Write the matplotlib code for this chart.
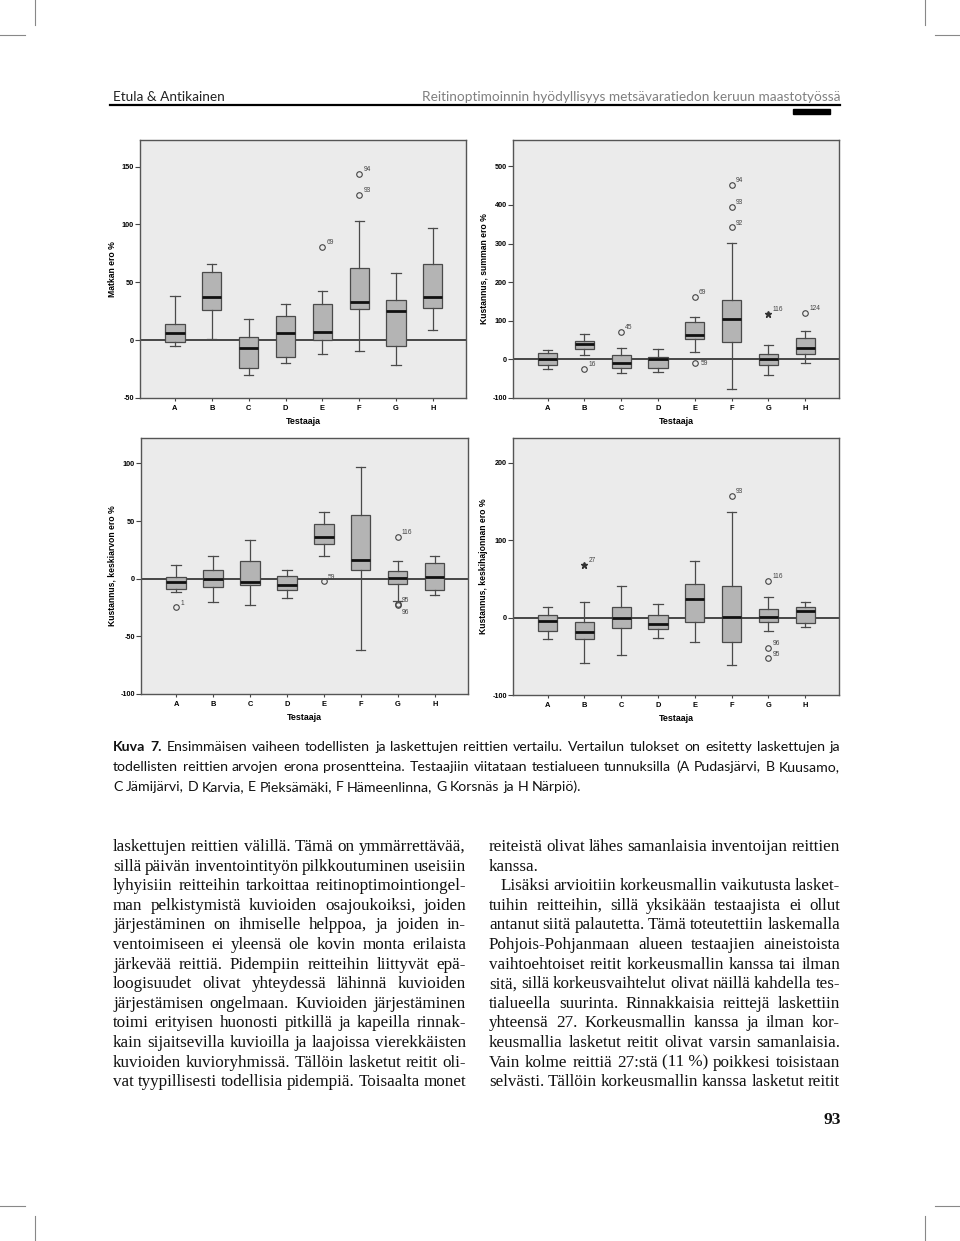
import matplotlib
matplotlib.use("Agg")
import matplotlib.pyplot as plt
from matplotlib.lines import Line2D
from matplotlib.patches import Rectangle

W, H = 960, 1241

# -----------------------------------
# DATA
# -----------------------------------

testaajat = ["A", "B", "C", "D", "E", "F", "G", "H"]

# Matkan ero %
matka_whislo = [-4.9, 1.0, -29.7, -20.0, -11.7, -9.7, -21.4, 9.1]
matka_q1 = [-2.0, 26.0, -23.7, -14.9, -0.3, 26.9, -4.9, 28.0]
matka_med = [6.3, 37.0, -6.6, 6.0, 7.1, 33.4, 25.4, 37.4]
matka_q3 = [14.3, 59.0, 2.3, 20.9, 30.9, 62.6, 34.9, 65.4]
matka_whishi = [38.0, 66.0, 18.0, 31.4, 42.3, 102.6, 58.3, 96.9]
matka_outliers = [("E", 80.6, "69", "o"), ("F", 143.4, "94", "o"), ("F", 125.4, "93", "o")]

# Kustannus, summan ero %
summa_whislo = [-25.9, 11.2, -36.0, -32.8, 19.0, -76.7, -41.4, -10.3]
summa_q1 = [-14.7, 25.9, -23.0, -21.6, 53.4, 44.0, -13.8, 14.7]
summa_med = [0.0, 39.7, -10.3, 0.0, 63.0, 105.0, 0.0, 29.0]
summa_q3 = [15.5, 48.0, 11.0, 7.0, 95.7, 152.6, 14.7, 55.0]
summa_whishi = [25.0, 66.0, 30.0, 28.0, 108.6, 301.0, 36.0, 74.0]
summa_outliers = [("B", -24.0, "16", "o"), ("C", 72.0, "45", "o"), ("E", 161.0, "69", "o"),
                  ("E", -10.3, "59", "o"), ("F", 452.6, "94", "o"), ("F", 394.8, "93", "o"),
                  ("F", 342.0, "92", "o"), ("G", 117.0, "116", "*"), ("H", 120.7, "124", "o")]

# Kustannus, keskiarvon ero %
keskiarvo_whislo = [-11.5, -20.5, -22.8, -16.4, 19.6, -62.0, -19.6, -13.8]
keskiarvo_q1 = [-8.6, -6.9, -5.8, -9.8, 30.0, 7.2, -4.6, -10.0]
keskiarvo_med = [-3.2, -0.6, -2.9, -5.8, 36.3, 16.4, 0.6, 1.4]
keskiarvo_q3 = [1.2, 7.2, 15.3, 2.0, 47.6, 54.8, 6.3, 13.8]
keskiarvo_whishi = [11.5, 19.3, 33.4, 7.5, 58.2, 96.5, 15.6, 19.3]
keskiarvo_outliers = [("A", -24.8, "1", "o"), ("E", -2.3, "59", "o"), ("G", 36.3, "116", "o"),
                      ("G", -22.0, "95", "o"), ("G", -23.0, "96", "o")]

# Kustannus, keskihajonnan ero %
hajonta_whislo = [-28.0, -59.0, -48.7, -25.9, -31.9, -61.6, -17.7, -12.0]
hajonta_q1 = [-17.2, -27.6, -13.4, -14.2, -5.2, -31.0, -5.2, -6.5]
hajonta_med = [-4.7, -18.1, 0.0, -7.8, 24.6, 1.3, 1.3, 8.2]
hajonta_q3 = [3.4, -5.2, 13.4, 3.0, 43.1, 41.0, 11.2, 14.2]
hajonta_whishi = [13.8, 20.3, 41.0, 18.0, 73.3, 136.6, 26.3, 20.3]
hajonta_outliers = [("B", 67.7, "27", "*"), ("F", 157.0, "93", "o"), ("G", 47.0, "116", "o"),
                    ("G", -39.2, "96", "o"), ("G", -52.6, "95", "o")]

# -----------------------------------
# PAGE TEXT
# -----------------------------------

header_left = "Etula & Antikainen"
header_right = "Reitinoptimoinnin hyödyllisyys metsävaratiedon keruun maastotyössä"

caption_lines = [
    "Kuva 7. Ensimmäisen vaiheen todellisten ja laskettujen reittien vertailu. Vertailun tulokset on esitetty laskettujen ja",
    "todellisten reittien arvojen erona prosentteina. Testaajiin viitataan testialueen tunnuksilla (A Pudasjärvi, B Kuusamo,",
    "C Jämijärvi, D Karvia, E Pieksämäki, F Hämeenlinna, G Korsnäs ja H Närpiö).",
]

left_column = [
    "laskettujen reittien välillä. Tämä on ymmärrettävää,",
    "sillä päivän inventointityön pilkkoutuminen useisiin",
    "lyhyisiin reitteihin tarkoittaa reitinoptimointiongel-",
    "man pelkistymistä kuvioiden osajoukoiksi, joiden",
    "järjestäminen on ihmiselle helppoa, ja joiden in-",
    "ventoimiseen ei yleensä ole kovin monta erilaista",
    "järkevää reittiä. Pidempiin reitteihin liittyvät epä-",
    "loogisuudet olivat yhteydessä lähinnä kuvioiden",
    "järjestämisen ongelmaan. Kuvioiden järjestäminen",
    "toimi erityisen huonosti pitkillä ja kapeilla rinnak-",
    "kain sijaitsevilla kuvioilla ja laajoissa vierekkäisten",
    "kuvioiden kuvioryhmissä. Tällöin lasketut reitit oli-",
    "vat tyypillisesti todellisia pidempiä. Toisaalta monet",
]

right_column = [
    "reiteistä olivat lähes samanlaisia inventoijan reittien",
    "kanssa.",
    "Lisäksi arvioitiin korkeusmallin vaikutusta lasket-",
    "tuihin reitteihin, sillä yksikään testaajista ei ollut",
    "antanut siitä palautetta. Tämä toteutettiin laskemalla",
    "Pohjois-Pohjanmaan alueen testaajien aineistoista",
    "vaihtoehtoiset reitit korkeusmallin kanssa tai ilman",
    "sitä, sillä korkeusvaihtelut olivat näillä kahdella tes-",
    "tialueella suurinta. Rinnakkaisia reittejä laskettiin",
    "yhteensä 27. Korkeusmallin kanssa ja ilman kor-",
    "keusmallia lasketut reitit olivat varsin samanlaisia.",
    "Vain kolme reittiä 27:stä (11\u00a0%) poikkesi toisistaan",
    "selvästi. Tällöin korkeusmallin kanssa lasketut reitit",
]

page_number = "93"

# -----------------------------------
# FIGURE + HELPERS
# -----------------------------------

fig = plt.figure(figsize=(W / 100, H / 100), dpi=100)
fig.patch.set_facecolor("white")
renderer = fig.canvas.get_renderer()


def fx(x):
    return x / W


def fy(y):
    return 1 - y / H


def text_width(s, **kw):
    t = fig.text(0, 0, s, **kw)
    w = t.get_window_extent(renderer).width
    t.remove()
    return w


def set_line(line, x0, x1, y, justify=True, bold_first=0, **kw):
    words = line.split(" ")
    weights = ["bold" if i < bold_first else "normal" for i in range(len(words))]
    widths = [text_width(w, fontweight=wt, **kw) for w, wt in zip(words, weights)]
    if justify and len(words) > 1:
        gap = (x1 - x0 - sum(widths)) / (len(words) - 1)
    else:
        gap = text_width("n n", **kw) - 2 * text_width("n", **kw)
    x = x0
    for w, wt, wd in zip(words, weights, widths):
        fig.text(fx(x), fy(y), w, ha="left", va="center_baseline", fontweight=wt, **kw)
        x += wd + gap


def draw_panel(rect, whislo, q1, med, q3, whishi, outliers, ylabel, yticks, ylim, xlim,
               label_offsets=None):
    x0, y0, x1, y1 = rect
    ax = fig.add_axes([fx(x0), fy(y1), (x1 - x0) / W, (y1 - y0) / H])
    ax.set_facecolor("#ebebeb")

    stats = []
    for a, b, c, d, e in zip(whislo, q1, med, q3, whishi):
        stats.append(dict(whislo=a, q1=b, med=c, q3=d, whishi=e, fliers=[]))

    positions = list(range(1, len(testaajat) + 1))
    ax.axhline(0, color="#1a1a1a", lw=1.1, zorder=1.5)
    ax.bxp(
        stats,
        positions=positions,
        widths=0.52,
        capwidths=0.25,
        patch_artist=True,
        showfliers=False,
        manage_ticks=False,
        boxprops=dict(facecolor="#b4b4b4", edgecolor="#4a4a4a", linewidth=0.9),
        whiskerprops=dict(color="#4a4a4a", linewidth=0.9),
        capprops=dict(color="#4a4a4a", linewidth=0.9),
        medianprops=dict(color="#111111", linewidth=2.0),
        zorder=2,
    )

    label_offsets = label_offsets or {}
    for cat, val, lab, kind in outliers:
        xpos = testaajat.index(cat) + 1
        if kind == "*":
            ax.plot(xpos, val, marker="*", color="#333333", ms=4.5, zorder=3)
        else:
            ax.plot(xpos, val, marker="o", mfc="none", mec="#444444", mew=0.8, ms=4, zorder=3)
        ax.annotate(lab, (xpos, val), xytext=label_offsets.get(lab, (3, 2)),
                    textcoords="offset points", fontsize=4.8, color="#444444",
                    family="Liberation Sans")

    ax.set_xlim(*xlim)
    ax.set_ylim(*ylim)
    ax.set_xticks(positions, labels=testaajat, fontsize=5.4, fontweight="bold",
                  family="Liberation Sans")
    ax.set_yticks(yticks, labels=[str(v) for v in yticks], fontsize=5.2, fontweight="bold",
                  family="Liberation Sans")
    ax.tick_params(axis="y", direction="out", length=3.5, width=0.8, pad=1, color="#444444")
    ax.tick_params(axis="x", direction="out", length=2.2, width=0.8, pad=2.5, color="#444444")
    ax.set_xlabel("Testaaja", fontsize=6.4, fontweight="bold", family="Liberation Sans",
                  labelpad=4)
    ax.set_ylabel(ylabel, fontsize=6.2, fontweight="bold", family="Liberation Sans",
                  labelpad=3)
    for sp in ax.spines.values():
        sp.set_color("#555555")
        sp.set_linewidth(1.0)
    return ax


# -----------------------------------
# CHART PANELS
# -----------------------------------

draw_panel((140, 140, 466, 398), matka_whislo, matka_q1, matka_med, matka_q3, matka_whishi,
           matka_outliers, "Matkan ero %", [-50, 0, 50, 100, 150], (-50, 173), (0.05, 8.9))

draw_panel((513, 140, 839, 398), summa_whislo, summa_q1, summa_med, summa_q3, summa_whishi,
           summa_outliers, "Kustannus, summan ero %", [-100, 0, 100, 200, 300, 400, 500],
           (-100, 568), (0.06, 8.92), label_offsets={"59": (4, -1)})

draw_panel((141, 438, 468, 694), keskiarvo_whislo, keskiarvo_q1, keskiarvo_med, keskiarvo_q3,
           keskiarvo_whishi, keskiarvo_outliers, "Kustannus, keskiarvon ero %",
           [-100, -50, 0, 50, 100], (-100, 122), (0.05, 8.9),
           label_offsets={"95": (3, 1.5), "96": (3, -6)})

draw_panel((513, 438, 839, 695), hajonta_whislo, hajonta_q1, hajonta_med, hajonta_q3,
           hajonta_whishi, hajonta_outliers, "Kustannus, keskihajonnan ero %",
           [-100, 0, 100, 200], (-100, 232), (0.06, 8.92))

# -----------------------------------
# HEADER
# -----------------------------------

sans = "Lato"
hdr_size = 10 * 419 / text_width(header_right, fontsize=10, family=sans)
fig.text(fx(113), fy(96), header_left, ha="left", va="center_baseline",
         fontsize=hdr_size, family=sans, color="#222222")
fig.text(fx(840), fy(96), header_right, ha="right", va="center_baseline",
         fontsize=hdr_size, family=sans, color="#808080")
fig.add_artist(Line2D([fx(110), fx(840)], [fy(105), fy(105)], transform=fig.transFigure,
                      color="black", lw=1.6))
fig.add_artist(Rectangle((fx(793), fy(114)), 37 / W, 4.5 / H, transform=fig.transFigure,
                         color="black"))

# -----------------------------------
# CAPTION
# -----------------------------------

cap_size = 10 * 712 / text_width(caption_lines[0], fontsize=10, family=sans)
for i, line in enumerate(caption_lines):
    set_line(line, 113, 840, 746 + 20 * i, justify=(i < 2), bold_first=2 if i == 0 else 0,
             fontsize=cap_size, family=sans, color="#111111")

# -----------------------------------
# BODY TEXT
# -----------------------------------

serif = "Liberation Serif"
# fit the type size so the widest justified line just fills its column
ratios = [text_width(l, fontsize=10, family=serif) / 353 for l in left_column]
ratios += [text_width(l, fontsize=10, family=serif) / 351
           for i, l in enumerate(right_column) if i != 1]
body_size = 10 / max(ratios) * 1.01

for i, line in enumerate(left_column):
    set_line(line, 113, 466, 845 + 19.6 * i, justify=True,
             fontsize=body_size, family=serif, color="#111111")

right_just = [True, False, True, True, True, True, True, True, True, True, True, True, True]
for i, line in enumerate(right_column):
    x0 = 501 if i == 2 else 489
    set_line(line, x0, 840, 845 + 19.6 * i, justify=right_just[i],
             fontsize=body_size, family=serif, color="#111111")

fig.text(fx(841), fy(1118), page_number, ha="right", va="center_baseline",
         fontsize=12.5, fontweight="bold", family=serif, color="#111111")

# -----------------------------------
# CROP MARKS
# -----------------------------------

marks = [
    ((35, 35), (0, 25)), ((0, 25), (35, 35)),
    ((925, 925), (0, 25)), ((935, 960), (35, 35)),
    ((0, 25), (1206, 1206)), ((35, 35), (1216, 1241)),
    ((935, 960), (1206, 1206)), ((925, 925), (1216, 1241)),
]
for xs, ys in marks:
    fig.add_artist(Line2D([fx(x) for x in xs], [fy(y) for y in ys], transform=fig.transFigure,
                          color="#888888", lw=0.8))

fig.savefig("out.png", dpi=100, facecolor="white")
